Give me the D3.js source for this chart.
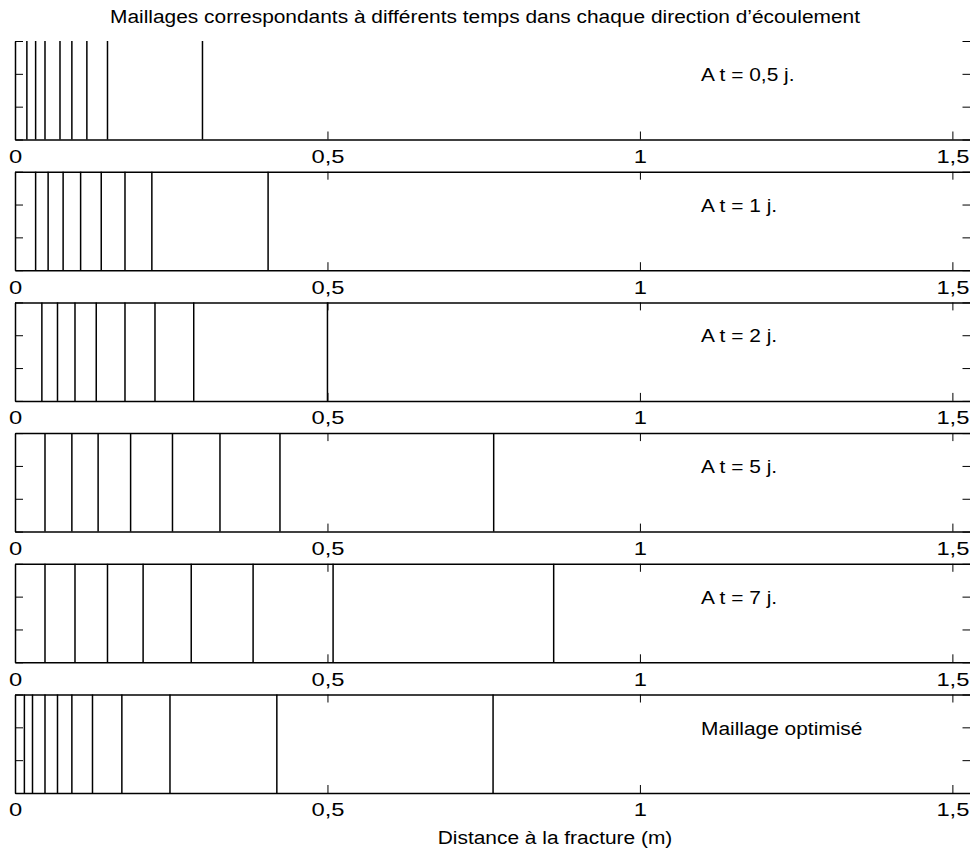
<!DOCTYPE html>
<html>
<head>
<meta charset="utf-8">
<script src="https://cdn.jsdelivr.net/npm/d3@7"></script>
<style>
  body { margin: 0; background: #fff; }
  svg { display: block; }
  text { font-family: "Liberation Sans", Arial, sans-serif; fill: #000; }
</style>
</head>
<body>
<script>
// mesh node positions (m), one array per panel
var mesh05 = [0.019, 0.033, 0.048, 0.072, 0.091, 0.115, 0.148, 0.300];
var mesh1 = [0.033, 0.053, 0.077, 0.105, 0.138, 0.176, 0.219, 0.405];
var mesh2 = [0.043, 0.068, 0.096, 0.130, 0.176, 0.224, 0.286, 0.500];
var mesh5 = [0.048, 0.091, 0.133, 0.185, 0.252, 0.328, 0.424, 0.766];
var mesh7 = [0.048, 0.096, 0.148, 0.205, 0.282, 0.381, 0.509, 0.862];
var meshOpt = [0.015, 0.028, 0.048, 0.068, 0.091, 0.124, 0.171, 0.248, 0.419, 0.765];

var panelLabels = ["A t = 0,5 j.", "A t = 1 j.", "A t = 2 j.", "A t = 5 j.", "A t = 7 j.", "Maillage optimisé"];
var xTicks = [0, 0.5, 1, 1.5];
var xTickLabels = ["0", "0,5", "1", "1,5"];
var yTicks = [0, 1 / 3, 2 / 3, 1];

var title = "Maillages correspondants à différents temps dans chaque direction d\u2019écoulement";
var xTitle = "Distance à la fracture (m)";

var panels = [mesh05, mesh1, mesh2, mesh5, mesh7, meshOpt];

var W = 970, H = 853;
var firstTop = 41, pitch = 130.7, ph = 98.5;
var fontSize = 19;
var stretch = "scale(1.1,1)";

var svg = d3.select("body").append("svg")
  .attr("width", W)
  .attr("height", H);

var x = d3.scaleLinear().domain([0, 1.529]).range([15, 970.5]);
var y = d3.scaleLinear().domain([0, 1]).range([ph, 0]);

svg.append("text")
  .attr("transform", "translate(485,23) " + stretch)
  .attr("text-anchor", "middle")
  .style("font-size", fontSize + "px")
  .text(title);

panels.forEach(function (mesh, i) {
  var g = svg.append("g")
    .attr("transform", "translate(0," + (firstTop + i * pitch) + ")");

  // mesh lines
  g.selectAll("line.mesh")
    .data(mesh)
    .enter().append("line")
    .attr("class", "mesh")
    .attr("x1", function (d) { return x(d); })
    .attr("x2", function (d) { return x(d); })
    .attr("y1", y(1))
    .attr("y2", y(0))
    .attr("stroke", "#000")
    .attr("stroke-width", 1.5);

  // bottom axis with labels
  var bottom = g.append("g")
    .attr("transform", "translate(0," + ph + ")")
    .call(d3.axisBottom(x).tickValues(xTicks)
      .tickSizeInner(-8).tickSizeOuter(0).tickPadding(10)
      .tickFormat(function (d, k) { return xTickLabels[k]; }));
  bottom.selectAll("text")
    .style("font-size", fontSize + "px")
    .attr("transform", "scale(1.25,1)");
  bottom.attr("font-family", null);

  // top axis (the first panel has none)
  if (i > 0) {
    g.append("g")
      .call(d3.axisTop(x).tickValues(xTicks)
        .tickSizeInner(-8).tickSizeOuter(0).tickFormat(""));
  }

  // left and right axes
  g.append("g")
    .attr("transform", "translate(" + x(0) + ",0)")
    .call(d3.axisLeft(y).tickValues(yTicks).tickSizeInner(-8).tickSizeOuter(0).tickFormat(""));
  g.append("g")
    .attr("transform", "translate(" + x(1.529) + ",0)")
    .call(d3.axisRight(y).tickValues(yTicks).tickSizeInner(-8).tickSizeOuter(0).tickFormat(""));

  g.append("text")
    .attr("transform", "translate(701,40) " + stretch)
    .style("font-size", fontSize + "px")
    .text(panelLabels[i]);
});

svg.selectAll(".domain").attr("stroke", "#000").attr("stroke-width", 1.5);
svg.selectAll(".tick line").attr("stroke", "#000").attr("stroke-width", 1);

svg.append("text")
  .attr("transform", "translate(555,844) " + stretch)
  .attr("text-anchor", "middle")
  .style("font-size", fontSize + "px")
  .text(xTitle);
</script>
</body>
</html>
